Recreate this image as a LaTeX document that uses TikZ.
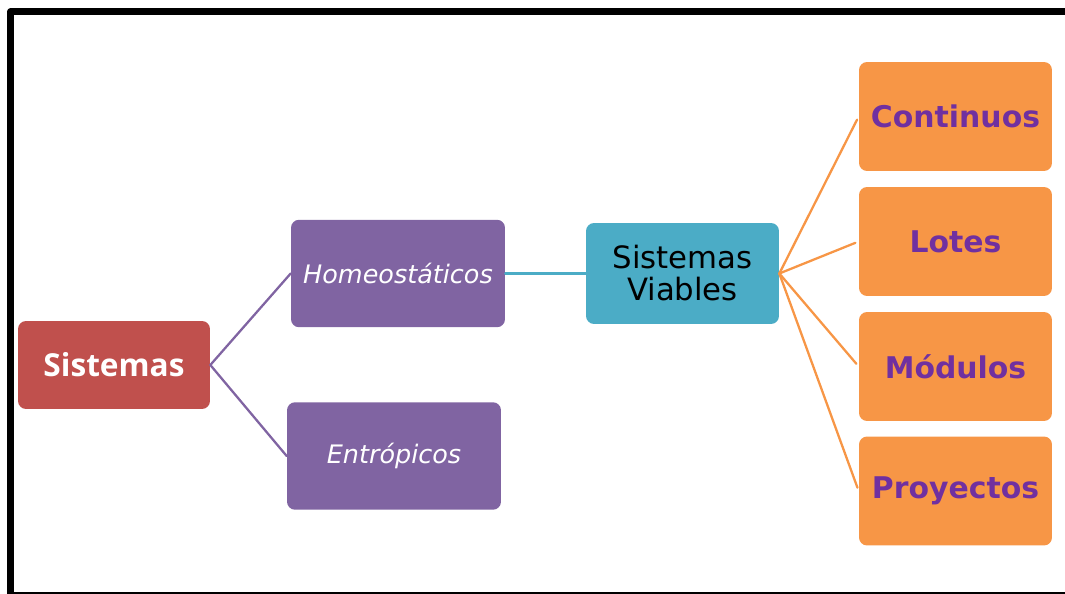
\documentclass[tikz,border=0pt]{standalone}
\usepackage{fontspec}
\usepackage{xcolor}
\setmainfont{DejaVu Sans}
\newfontfamily\opensans{Open Sans}
\definecolor{rojo}{HTML}{C0504D}
\definecolor{morado}{HTML}{8064A2}
\definecolor{celeste}{HTML}{4BACC6}
\definecolor{naranja}{HTML}{F79646}
\definecolor{letra}{HTML}{7030A0}

\begin{document}
\begin{tikzpicture}[line cap=round,line join=round,x=0.02cm,y=-0.02cm,
    caja/.style={rounded corners=0.16cm,align=center,inner sep=0pt},
    raiz/.style={caja,fill=rojo,text=white,minimum width=3.84cm,minimum height=1.76cm,font=\opensans\bfseries\fontsize{18}{20}\selectfont},
    rama/.style={caja,fill=morado,text=white,minimum width=4.28cm,minimum height=2.15cm,font=\itshape\fontsize{14.5}{17}\selectfont},
    viable/.style={caja,fill=celeste,text=black,minimum width=3.86cm,minimum height=2.02cm,font=\fontsize{17.5}{18.2}\selectfont},
    hoja/.style={caja,fill=naranja,text=letra,minimum width=3.86cm,minimum height=2.18cm,font=\bfseries\fontsize{17}{20}\selectfont},
    linea/.style={line width=1.3pt}]
                \useasboundingbox (0,0) rectangle (1065,594);
                \clip (0,0) rectangle (1065,594);
                % marco
                \draw [line width=0.14cm,line cap=butt] (1070,12)-- (10.5,12)-- (10.5,600);
                \draw [line width=0.08cm,line cap=butt] (10.5,594)-- (1070,594);
                % cajas
                \node[raiz] (sis) at (114,365) {Sistemas};
                \node[rama] (hom) at (398,273.5) {Homeost\'aticos};
                \node[rama] (ent) at (394,456) {Entr\'opicos};
                \node[viable] (via) at (682.5,273.5) {Sistemas\\Viables};
                \node[hoja] (con) at (955.5,116.5) {Continuos};
                \node[hoja] (lot) at (955.5,241.5) {Lotes};
                \node[hoja] (mod) at (955.5,366.5) {M\'odulos};
                \node[hoja] (pro) at (955.5,491) {Proyectos};
                % conectores
                \draw [linea,color=morado] (hom.west)-- (sis.east)-- (ent.west);
                \draw [linea,color=celeste] (hom.east)-- (via.west);
                \draw [linea,color=naranja,shorten >=2pt] (via.east)-- (con.west);
                \draw [linea,color=naranja,shorten >=2pt] (via.east)-- (lot.west);
                \draw [linea,color=naranja,shorten >=2pt] (via.east)-- (mod.west);
                \draw [linea,color=naranja,shorten >=2pt] (via.east)-- (pro.west);
            \end{tikzpicture}
\end{document}
